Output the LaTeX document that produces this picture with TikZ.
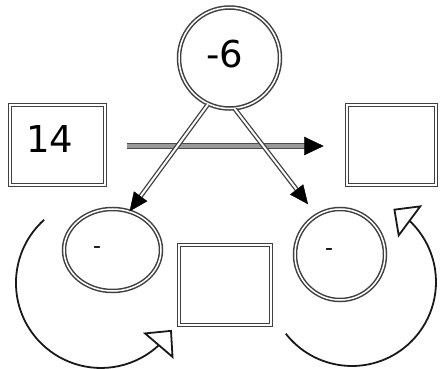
\documentclass[tikz,border=0pt]{standalone}
\usepackage{fontspec}
\setmainfont{DejaVu Sans}
\usetikzlibrary{arrows.meta,bending,shapes.geometric,calc}
\begin{document}
\begin{tikzpicture}[x=1pt,y=-1pt,
  ring/.style={draw=black!75, line width=1.5pt, double=white, double distance=1.5pt, inner sep=0pt},
  circ/.style={ring, circle},
  ell/.style={ring, ellipse},
  box/.style={ring, rectangle},
  big/.style={font=\fontsize{37}{40}\selectfont, inner sep=0pt},
  small/.style={font=\fontsize{22}{24}\selectfont, inner sep=0pt},
  dline/.style={draw=black!75, line width=1.3pt, double=white, double distance=2pt},
  hline/.style={draw=black!70, line width=1.6pt, double=black!40, double distance=3.5pt},
  tipfill/.style={fill=black, draw=black, line width=0.4pt, line join=miter},
  loopy/.style={draw=black!90, line width=1.8pt, -{Triangle[length=21pt,width=40pt,fill=white]}}
]
\useasboundingbox (0,0) rectangle (440,369);

% nodes
\node[circ, minimum size=101pt] (top) at (229.5,58) {};
\node[box, minimum width=95pt, minimum height=80pt] (a) at (57.5,145) {};
\node[box, minimum width=89pt, minimum height=80pt] (b) at (391.5,145) {};
\node[box, minimum width=92pt, minimum height=80pt] (m) at (225,285) {};
\node[ell, minimum width=97pt, minimum height=82pt] (lell) at (112.5,250) {};
\node[ell, minimum width=90pt, minimum height=91pt] (rell) at (340,254.5) {};

% texts
\node[big] (t6) at (225,54) {-6};
\node[big] (t14) at (50,139) {14};
\node[small] (lm) at (97,250) {-};
\node[small] (rm) at (329,252) {-};

% horizontal connector
\coordinate (hs) at ($(a.east)+(21,1)$);
\coordinate (he) at ($(b.west)+(-23,1)$);
\draw[hline, shorten >=17pt] (hs) -- (he);
\coordinate (hb) at ($(he)!19pt!(hs)$);
\fill[tipfill] (he) -- ($(hb)!9pt!90:(he)$) -- ($(hb)!9pt!-90:(he)$) -- cycle;

% diagonal connectors
\coordinate (le) at (lell.66);
\coordinate (ltop) at (top.-115);
\draw[dline, shorten >=16pt] (ltop) -- (le);
\coordinate (lb) at ($(le)!18pt!(ltop)$);
\fill[tipfill] (le) -- ($(lb)!8pt!90:(le)$) -- ($(lb)!8pt!-90:(le)$) -- cycle;

\coordinate (rtop) at (top.-84);
\coordinate (re) at ($(rell.121)!14pt!(rtop)$);
\draw[dline, shorten >=16pt] (rtop) -- (re);
\coordinate (rb) at ($(re)!18pt!(rtop)$);
\fill[tipfill] (re) -- ($(rb)!8pt!90:(re)$) -- ($(rb)!8pt!-90:(re)$) -- cycle;

% loops
\coordinate (ls) at (44.1,219.8);
\draw[loopy] (ls) arc[start angle=-132, end angle=-326.5, radius=85];
\coordinate (rs) at (285.8,333.7);
\draw[loopy] (rs) arc[start angle=-218, end angle=-420.5, radius=84];
\end{tikzpicture}
\end{document}
